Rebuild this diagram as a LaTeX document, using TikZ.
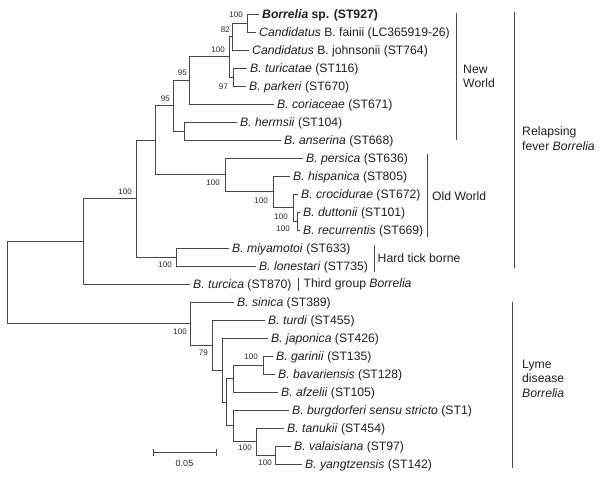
\documentclass[tikz,border=0pt]{standalone}
\usepackage{fontspec}
\setmainfont{Liberation Sans}
\begin{document}
\begin{tikzpicture}[x=1pt,y=-1pt,
  br/.style={draw=black!72, line width=0.95pt},
  leaf/.style={anchor=west, inner xsep=3.5pt, inner ysep=0pt, text height=8.7pt, text depth=0pt,
    font=\fontsize{12.2}{14}\selectfont, text=black!88},
  bs/.style={anchor=east, inner sep=0pt, font=\fontsize{8}{9}\selectfont, text=black!85},
  grp/.style={anchor=west, inner sep=0pt, align=left, font=\fontsize{12.2}{14.5}\selectfont, text=black!88},
  bar/.style={draw=black!72, line width=0.95pt}]
\useasboundingbox (0,0) rectangle (600,477);

% internal nodes
\coordinate (A) at (247,23);
\coordinate (B) at (232,36.5);
\coordinate (D) at (233,77);
\coordinate (C) at (229,56.75);
\coordinate (E) at (189,80.4);
\coordinate (F) at (184,131);
\coordinate (G) at (173,105.7);
\coordinate (L) at (297,221);
\coordinate (K) at (293,207.5);
\coordinate (J) at (273,191.75);
\coordinate (I) at (225,174.9);
\coordinate (H) at (155,140.3);
\coordinate (N) at (176,257);
\coordinate (M) at (136,198.6);
\coordinate (O) at (83,241.3);
\coordinate (X) at (275,455);
\coordinate (W) at (256,441.5);
\coordinate (U) at (233,425.75);
\coordinate (V) at (263,365);
\coordinate (T) at (233,378.5);
\coordinate (S) at (226,402.1);
\coordinate (R) at (222,370);
\coordinate (Q) at (212,345);
\coordinate (P) at (190,323.5);
\coordinate (root) at (7,282.4);

% leaves
\node[leaf] (l1) at (258.5,14) {\textbf{\textit{Borrelia} sp. (ST927)}};
\node[leaf] (l2) at (255.5,32) {\textit{Candidatus} B. fainii (LC365919-26)};
\node[leaf] (l3) at (248.5,50) {\textit{Candidatus} B. johnsonii (ST764)};
\node[leaf] (l4) at (246.5,68) {\textit{B. turicatae} (ST116)};
\node[leaf] (l5) at (245.5,86) {\textit{B. parkeri} (ST670)};
\node[leaf] (l6) at (273.5,104) {\textit{B. coriaceae} (ST671)};
\node[leaf] (l7) at (236.5,122) {\textit{B. hermsii} (ST104)};
\node[leaf] (l8) at (280.5,140) {\textit{B. anserina} (ST668)};
\node[leaf] (l9) at (302.5,158) {\textit{B. persica} (ST636)};
\node[leaf] (l10) at (289.5,176) {\textit{B. hispanica} (ST805)};
\node[leaf] (l11) at (297.5,194) {\textit{B. crocidurae} (ST672)};
\node[leaf] (l12) at (299.5,212) {\textit{B. duttonii} (ST101)};
\node[leaf] (l13) at (299.5,230) {\textit{B. recurrentis} (ST669)};
\node[leaf] (l14) at (228.5,248) {\textit{B. miyamotoi} (ST633)};
\node[leaf] (l15) at (255.5,266) {\textit{B. lonestari} (ST735)};
\node[leaf] (l16) at (189.5,284) {\textit{B. turcica} (ST870)};
\node[leaf] (l17) at (233.5,302) {\textit{B. sinica} (ST389)};
\node[leaf] (l18) at (264.5,320) {\textit{B. turdi} (ST455)};
\node[leaf] (l19) at (267.5,338) {\textit{B. japonica} (ST426)};
\node[leaf] (l20) at (272.5,356) {\textit{B. garinii} (ST135)};
\node[leaf] (l21) at (274.5,374) {\textit{B. bavariensis} (ST128)};
\node[leaf] (l22) at (277.5,392) {\textit{B. afzelii} (ST105)};
\node[leaf] (l23) at (288.5,410) {\textit{B. burgdorferi sensu stricto} (ST1)};
\node[leaf] (l24) at (283.5,428) {\textit{B. tanukii} (ST454)};
\node[leaf] (l25) at (290.5,446) {\textit{B. valaisiana} (ST97)};
\node[leaf] (l26) at (301.5,464) {\textit{B. yangtzensis} (ST142)};

% branches
\draw[br] (A) |- (l1.west);
\draw[br] (A) |- (l2.west);
\draw[br] (B) |- (A);
\draw[br] (B) |- (l3.west);
\draw[br] (D) |- (l4.west);
\draw[br] (D) |- (l5.west);
\draw[br] (C) |- (B);
\draw[br] (C) |- (D);
\draw[br] (E) |- (C);
\draw[br] (E) |- (l6.west);
\draw[br] (F) |- (l7.west);
\draw[br] (F) |- (l8.west);
\draw[br] (G) |- (E);
\draw[br] (G) |- (F);
\draw[br] (L) |- (l12.west);
\draw[br] (L) |- (l13.west);
\draw[br] (K) |- (l11.west);
\draw[br] (K) |- (L);
\draw[br] (J) |- (l10.west);
\draw[br] (J) |- (K);
\draw[br] (I) |- (l9.west);
\draw[br] (I) |- (J);
\draw[br] (H) |- (G);
\draw[br] (H) |- (I);
\draw[br] (N) |- (l14.west);
\draw[br] (N) |- (l15.west);
\draw[br] (M) |- (H);
\draw[br] (M) |- (N);
\draw[br] (O) |- (M);
\draw[br] (O) |- (l16.west);
\draw[br] (X) |- (l25.west);
\draw[br] (X) |- (l26.west);
\draw[br] (W) |- (l24.west);
\draw[br] (W) |- (X);
\draw[br] (U) |- (l23.west);
\draw[br] (U) |- (W);
\draw[br] (V) |- (l20.west);
\draw[br] (V) |- (l21.west);
\draw[br] (T) |- (V);
\draw[br] (T) |- (l22.west);
\draw[br] (S) |- (T);
\draw[br] (S) |- (U);
\draw[br] (R) |- (l19.west);
\draw[br] (R) |- (S);
\draw[br] (Q) |- (l18.west);
\draw[br] (Q) |- (R);
\draw[br] (P) |- (l17.west);
\draw[br] (P) |- (Q);
\draw[br] (root) |- (O);
\draw[br] (root) |- (P);

% bootstrap values
\node[bs] (bA) at (243,15) {100};
\node[bs] (bB) at (230,30) {82};
\node[bs] (bC) at (225,50) {100};
\node[bs] (bD) at (228,87) {97};
\node[bs] (bE) at (187,73) {95};
\node[bs] (bG) at (170,99) {95};
\node[bs] (bI) at (220,183) {100};
\node[bs] (bJ) at (268,201) {100};
\node[bs] (bK) at (288,216.5) {100};
\node[bs] (bL) at (290,229) {100};
\node[bs] (bM) at (132,192) {100};
\node[bs] (bN) at (172,265) {100};
\node[bs] (bP) at (187,332) {100};
\node[bs] (bQ) at (208,353) {79};
\node[bs] (bV) at (258,357) {100};
\node[bs] (bW) at (252,448) {100};
\node[bs] (bX) at (272,463) {100};

% group brackets
\draw[bar] (456.7,12.7) -- (456.7,140);
\node[grp] (gNew) at (463,76.5) {New\\World};
\draw[bar] (427.7,154) -- (427.7,237);
\node[grp] (gOld) at (432,196) {Old World};
\draw[bar] (374,245) -- (374,272);
\node[grp] (gHard) at (377.5,258) {Hard tick borne};
\draw[bar] (514,11.7) -- (514,268);
\node[grp] (gRel) at (522,138.5) {Relapsing\\fever \textit{Borrelia}};
\draw[bar] (298,278) -- (298,291);
\node[grp] (gThird) at (303.5,284) {Third group \textit{Borrelia}};
\draw[bar] (512,302) -- (512,468);
\node[grp] (gLyme) at (522,378.5) {Lyme\\disease\\\textit{Borrelia}};

% scale bar
\coordinate (s1) at (153,452);
\coordinate (s2) at (216,452);
\draw[br] (s1) -- (s2);
\draw[br] ([yshift=-3.5pt]s1) -- ([yshift=3.5pt]s1);
\draw[br] ([yshift=-3.5pt]s2) -- ([yshift=3.5pt]s2);
\node[anchor=center, inner sep=0pt, font=\fontsize{9}{10}\selectfont, text=black!85] (sl) at (184.5,463.5) {0.05};
\end{tikzpicture}
\end{document}
